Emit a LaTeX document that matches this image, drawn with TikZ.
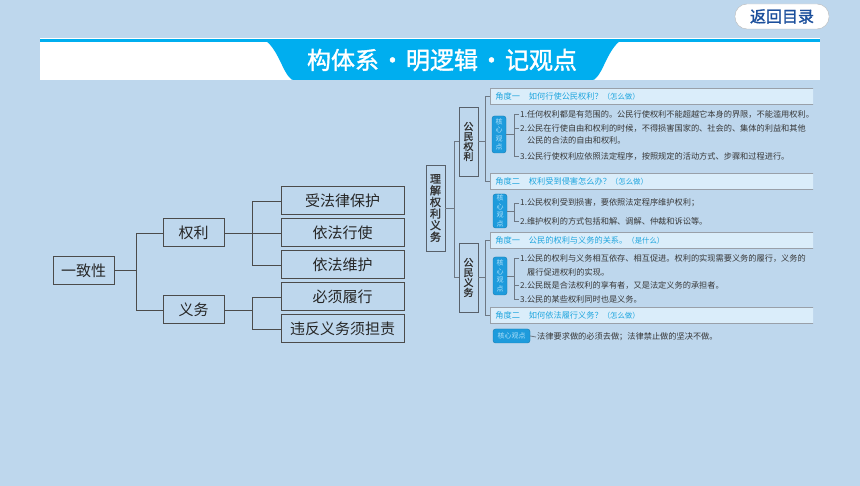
\documentclass[tikz,border=0pt]{standalone}
\usepackage{fontspec}
\setmainfont{Noto Sans CJK SC}[AutoFakeBold=1.5]
\definecolor{bg}{RGB}{190,215,237}
\definecolor{cyanb}{RGB}{0,174,239}
\definecolor{btntxt}{RGB}{27,79,156}
\definecolor{linec}{RGB}{75,75,75}
\definecolor{rline}{RGB}{110,120,132}
\definecolor{hdrfill}{RGB}{218,237,250}
\definecolor{hdrtxt}{RGB}{30,165,222}
\definecolor{badge}{RGB}{30,155,220}
\definecolor{badgetxt}{RGB}{175,225,250}
\definecolor{itemtxt}{RGB}{55,55,55}
\tikzset{
 box/.style={draw=linec, line width=1pt, minimum width=61, minimum height=28, inner sep=0pt, font=\fontsize{15pt}{15pt}\selectfont, text=black!85},
 leaf/.style={box, minimum width=123},
 vbox/.style={draw=rline!80!black, line width=0.9pt, minimum width=19, inner sep=0pt, align=center, text=black!80, font=\bfseries\fontsize{10pt}{10pt}\selectfont},
 conn/.style={draw=linec, line width=0.8pt},
 rconn/.style={draw=rline, line width=0.8pt},
 hdr/.style={draw=rline!70, line width=0.7pt, fill=hdrfill, anchor=west, minimum height=16, text width=330pt, inner xsep=5pt, inner ysep=0pt, align=left, text=hdrtxt, font=\fontsize{8.2pt}{9pt}\selectfont},
 bdg/.style={fill=badge, draw=badge!80!black, line width=0.4pt, rounded corners=2.5pt, minimum width=14, inner sep=0pt, align=center, text=badgetxt, font=\fontsize{7pt}{8.5pt}\selectfont},
 item/.style={anchor=west, inner sep=1pt, text=itemtxt, font=\fontsize{8.2pt}{9pt}\selectfont},
}
\newcommand{\pz}[1]{{\fontsize{7.4pt}{9pt}\selectfont #1}}
\begin{document}
\begin{tikzpicture}[x=1pt,y=-1pt]
\useasboundingbox (0,0) rectangle (860,486);
\fill[bg] (0,0) rectangle (860,486);
% return button
\node[draw=gray!55, fill=white, rounded corners=12pt, minimum width=94, minimum height=25, text=btntxt, font=\bfseries\fontsize{16pt}{16pt}\selectfont, inner sep=0pt] (btn) at (782,16.5) {返回目录};
% banner
\fill[white] (40,38) rectangle (820,80);
\draw[cyanb, line width=3pt] (40,40.5) -- (820,40.5);
\fill[cyanb] (266,41) .. controls (278,50) and (283,72) .. (290,78) .. controls (291,79.5) and (292,80) .. (294,80) -- (592,80) .. controls (594,80) and (595,79.5) .. (596,78) .. controls (603,72) and (608,50) .. (620,41) -- cycle;
\node[text=white, font=\bfseries\fontsize{24pt}{24pt}\selectfont] (title) at (442,60) {构体系\makebox[27pt]{·}明逻辑\makebox[27pt]{·}记观点};
% left tree
\node[box] (yzx) at (83.5,270.5) {一致性};
\node[box] (ql) at (193.5,233) {权利};
\node[box] (yw) at (193.5,310) {义务};
\node[leaf] (l1) at (342.5,201) {受法律保护};
\node[leaf] (l2) at (342.5,233) {依法行使};
\node[leaf] (l3) at (342.5,265) {依法维护};
\node[leaf] (l4) at (342.5,297) {必须履行};
\node[leaf] (l5) at (342.5,329) {违反义务须担责};
\coordinate (j1) at (136,0);
\coordinate (j2) at (252,0);
\draw[conn] (yzx.east) -- (yzx.east -| j1);
\draw[conn] (ql.west) -- (ql.west -| j1) -- (yw.west -| j1) -- (yw.west);
\draw[conn] (ql.east) -- (l2.west);
\draw[conn] (l1.west) -- (l1.west -| j2) -- (l3.west -| j2) -- (l3.west);
\draw[conn] (yw.east) -- (yw.east -| j2);
\draw[conn] (l4.west) -- (l4.west -| j2) -- (l5.west -| j2) -- (l5.west);
% right panel
\node[vbox, minimum height=86, font=\bfseries\fontsize{11pt}{11.6pt}\selectfont] (lj) at (435.5,208) {理\\解\\权\\利\\义\\务};
\node[vbox, minimum height=69] (gq) at (468.5,141.5) {公\\民\\权\\利};
\node[vbox, minimum height=69] (gy) at (468.5,277.5) {公\\民\\义\\务};
\coordinate (j3) at (454,0);
\coordinate (j4) at (485,0);
\coordinate (k1) at (514,0);
\draw[rconn] (lj.east) -- (lj.east -| j3);
\draw[rconn] (gq.west) -- (gq.west -| j3) -- (gy.west -| j3) -- (gy.west);
\begin{scope}
\clip (480,80) rectangle (813,350);
\node[hdr] (h1) at (490,96) {角度一\hspace{9pt}如何行使公民权利？\pz{（怎么做）}};
\node[hdr] (h2) at (490,181.5) {角度二\hspace{9pt}权利受到侵害怎么办？\pz{（怎么做）}};
\node[hdr] (h3) at (490,240.5) {角度一\hspace{9pt}公民的权利与义务的关系。\pz{（是什么）}};
\node[hdr] (h4) at (490,315.5) {角度二\hspace{9pt}如何依法履行义务？\pz{（怎么做）}};
\node[item] (i11) at (519,114) {1.任何权利都是有范围的。公民行使权利不能超越它本身的界限，不能滥用权利。};
\node[item] (i12) at (519,128) {2.公民在行使自由和权利的时候，不得损害国家的、社会的、集体的利益和其他};
\node[item] (i12b) at (526,140) {公民的合法的自由和权利。};
\node[item] (i13) at (519,156) {3.公民行使权利应依照法定程序，按照规定的活动方式、步骤和过程进行。};
\node[item] (i21) at (519,203) {1.公民权利受到损害，要依照法定程序维护权利；};
\node[item] (i22) at (519,221) {2.维护权利的方式包括和解、调解、仲裁和诉讼等。};
\node[item] (i31) at (519,258) {1.公民的权利与义务相互依存、相互促进。权利的实现需要义务的履行，义务的};
\node[item] (i31b) at (526,272) {履行促进权利的实现。};
\node[item] (i32) at (519,285) {2.公民既是合法权利的享有者，又是法定义务的承担者。};
\node[item] (i33) at (519,299) {3.公民的某些权利同时也是义务。};
\node[item] (i41) at (536,337) {法律要求做的必须去做；法律禁止做的坚决不做。};
\end{scope}
\draw[rconn] (gq.east) -- (gq.east -| j4);
\draw[rconn] (h1.west) -- (h1.west -| j4) -- (h2.west -| j4) -- (h2.west);
\draw[rconn] (gy.east) -- (gy.east -| j4);
\draw[rconn] (h3.west) -- (h3.west -| j4) -- (h4.west -| j4) -- (h4.west);
\node[bdg, minimum height=37] (b1) at (499,134.5) {核\\心\\观\\点};
\node[bdg, minimum height=34] (b2) at (500,211) {核\\心\\观\\点};
\node[bdg, minimum height=38] (b3) at (500,276) {核\\心\\观\\点};
\node[bdg, minimum width=37, minimum height=14] (b4) at (511.5,336) {核心观点};
\draw[rconn] (b1.east) -- (b1.east -| k1);
\draw[rconn] (i11.west) -- (i11.west -| k1) -- (i13.west -| k1) -- (i13.west);
\draw[rconn] (i12.west) -- (i12.west -| k1);
\draw[rconn] (b2.east) -- (b2.east -| k1);
\draw[rconn] (i21.west) -- (i21.west -| k1) -- (i22.west -| k1) -- (i22.west);
\draw[rconn] (b3.east) -- (b3.east -| k1);
\draw[rconn] (i31.west) -- (i31.west -| k1) -- (i33.west -| k1) -- (i33.west);
\draw[rconn] (i32.west) -- (i32.west -| k1);
\draw[rconn] (b4.east) -- (i41.west);
\end{tikzpicture}
\end{document}
